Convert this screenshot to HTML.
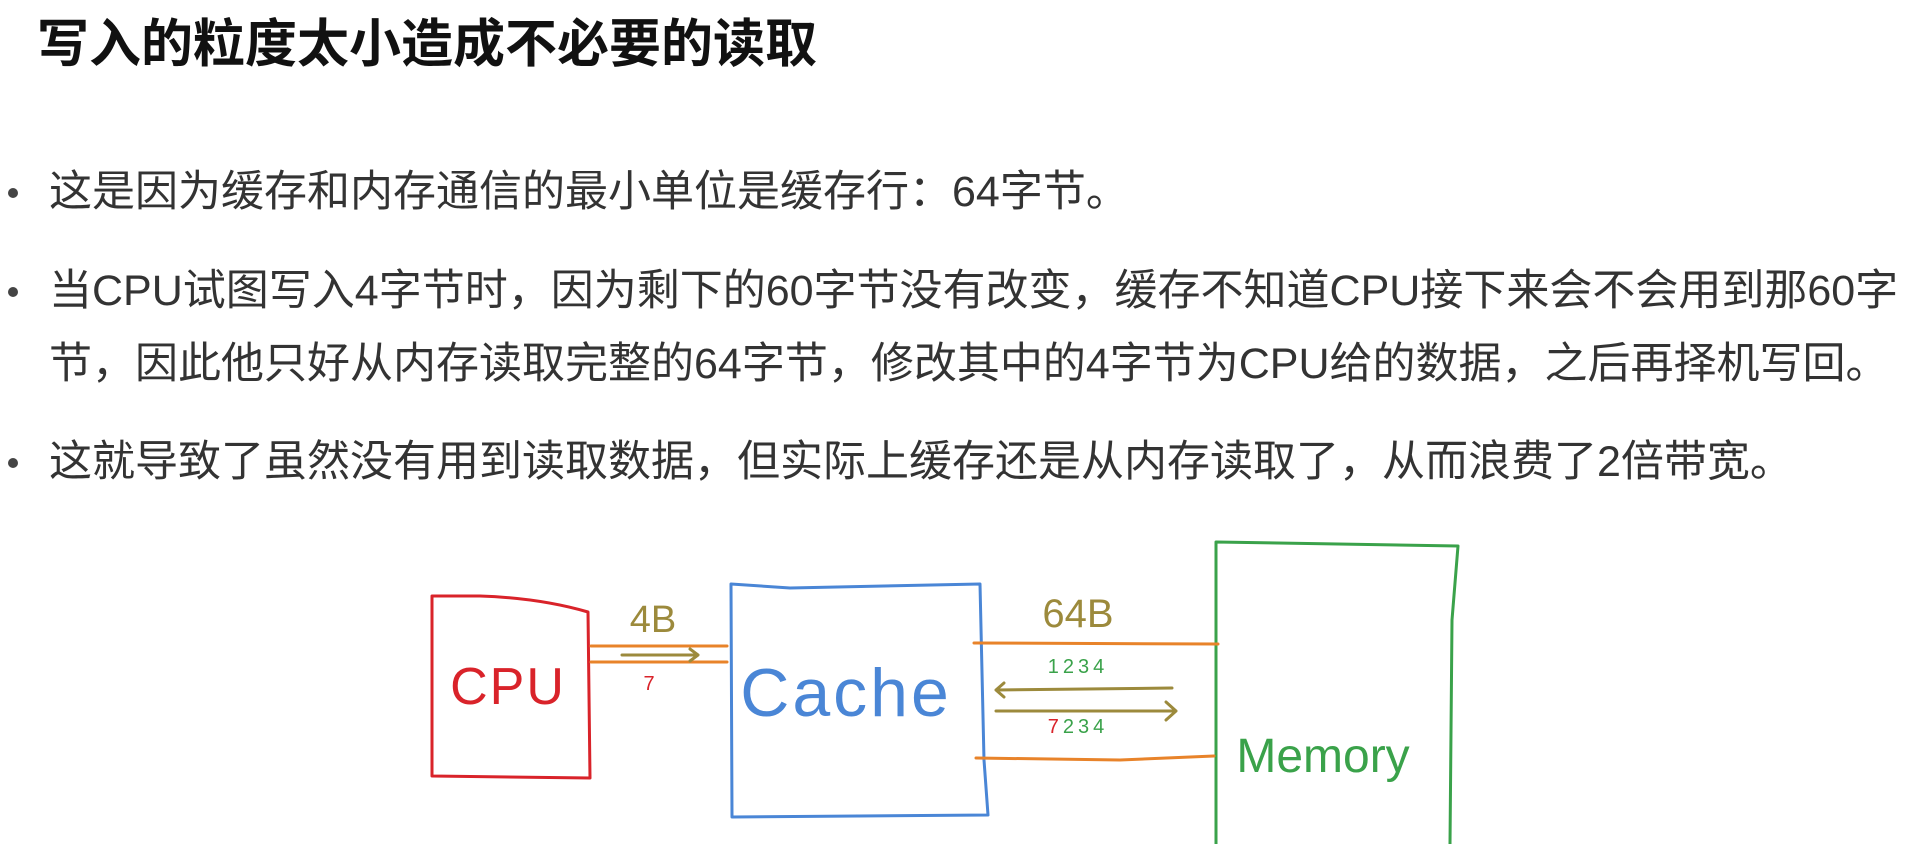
<!DOCTYPE html>
<html><head><meta charset="utf-8"><style>
body{margin:0;width:1920px;height:844px;background:#fff;overflow:hidden;position:relative;font-family:"Liberation Sans","Noto Sans CJK SC",sans-serif;color:#222}
.t{position:absolute;left:37px;top:19px;font-size:52px;line-height:52px;font-weight:bold;color:#111;white-space:nowrap}
.b,.c{position:absolute;left:49px;font-size:43px;line-height:43px;white-space:nowrap;color:#333}
.b::before{content:"";position:absolute;left:-41px;top:17px;width:10px;height:10px;border-radius:50%;background:#444}
svg{position:absolute;left:0;top:0}
</style></head><body>
<div class="t">写入的粒度太小造成不必要的读取</div>
<div class="b" style="top:171px">这是因为缓存和内存通信的最小单位是缓存行：64字节。</div>
<div class="b" style="top:270px">当CPU试图写入4字节时，因为剩下的60字节没有改变，缓存不知道CPU接下来会不会用到那60字</div>
<div class="c" style="top:343px">节，因此他只好从内存读取完整的64字节，修改其中的4字节为CPU给的数据，之后再择机写回。</div>
<div class="b" style="top:441px">这就导致了虽然没有用到读取数据，但实际上缓存还是从内存读取了，从而浪费了2倍带宽。</div>
<svg width="1920" height="844" viewBox="0 0 1920 844" fill="none" stroke-linecap="round" stroke-linejoin="round">
<path d="M432 596 L480 596 Q540 598 588 612 L590 778 L432 776 Z" stroke="#d9232a" stroke-width="3"/>
<path d="M731 584 L790 588 L980 584 L984 760 L988 815 L732 817 Z" stroke="#4a86d6" stroke-width="3"/>
<path d="M1216 844 L1216 542 L1458 546 L1452 620 L1450 844" stroke="#3aa24a" stroke-width="3"/>
<g stroke="#e8832a" stroke-width="3">
<line x1="591" y1="646" x2="727" y2="646"/><line x1="591" y1="662" x2="727" y2="662"/>
<line x1="974" y1="643" x2="1218" y2="644"/><path d="M976 758 L1120 760 L1214 756"/>
</g>
<g stroke="#9c8a3c" stroke-width="3">
<path d="M622 655 L698 655 M690 649 L698 655 L690 661"/>
<path d="M1172 688 L996 690 M1004 683 L996 690 L1004 697"/>
<path d="M996 711 L1176 711 M1166 702 L1176 711 L1166 720"/>
</g>
<g stroke="none" font-family="Liberation Sans, sans-serif">
<text x="653" y="632" font-size="38" fill="#9c8a3c" text-anchor="middle">4B</text>
<text x="1078" y="627" font-size="40" fill="#9c8a3c" text-anchor="middle">64B</text>
<text x="649" y="690" font-size="20" fill="#d9232a" text-anchor="middle">7</text>
<text x="1078" y="673" font-size="20" fill="#3aa24a" text-anchor="middle" letter-spacing="4">1234</text>
<text x="1078" y="733" font-size="20" fill="#3aa24a" text-anchor="middle" letter-spacing="4"><tspan fill="#d9232a">7</tspan>234</text>
<text x="508" y="704" font-size="52" fill="#d9232a" text-anchor="middle" letter-spacing="2">CPU</text>
<text x="846" y="716" font-size="68" fill="#4a86d6" text-anchor="middle" letter-spacing="3">Cache</text>
<text x="1323" y="772" font-size="48" fill="#3aa24a" text-anchor="middle">Memory</text>
</g>
</svg>
</body></html>
